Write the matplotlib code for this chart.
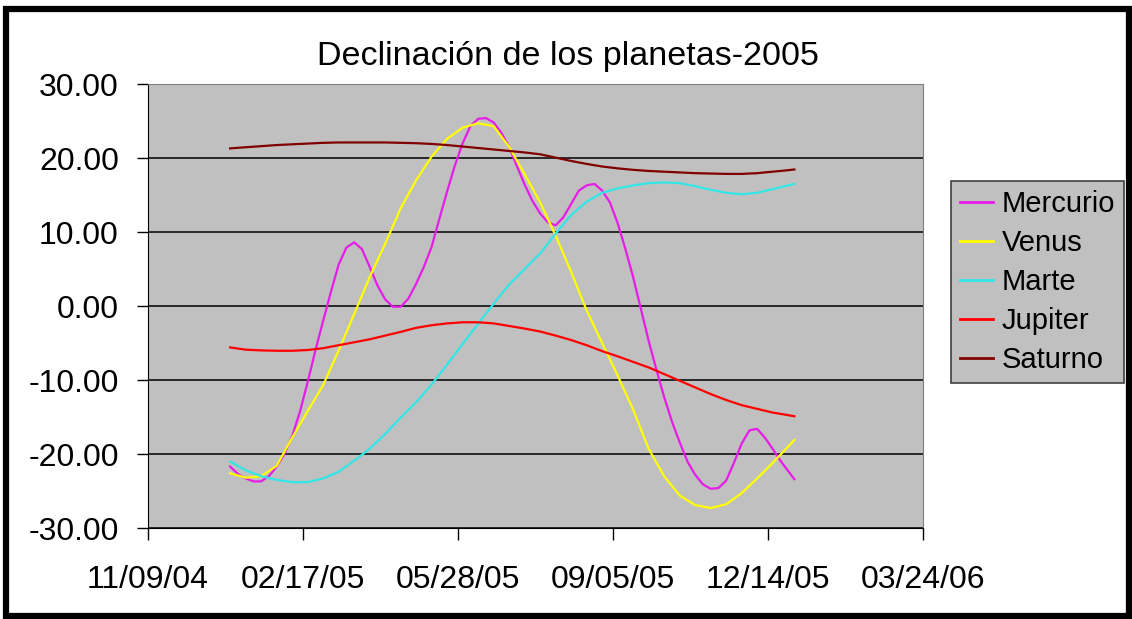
import numpy as np
import pandas as pd
import matplotlib
matplotlib.use('Agg')
import matplotlib.pyplot as plt
import matplotlib.dates as mdates
from matplotlib.patches import Rectangle

plt.rcParams['font.family'] = ['Liberation Sans', 'DejaVu Sans']

# fechas: cada 10 dias durante 2005 (Mercurio cada 5 dias), mas el 31 de diciembre
fechas = list(pd.date_range('2005-01-01', '2005-12-27', freq='10D')) + [pd.Timestamp('2005-12-31')]
fechas_mercurio = list(pd.date_range('2005-01-01', '2005-12-27', freq='5D')) + [pd.Timestamp('2005-12-31')]

mercurio = [-21.7, -22.7, -23.3, -23.7, -23.7, -23.0, -21.7, -20.0, -17.6, -14.3,
            -10.3, -6.0, -2.0, 1.9, 5.6, 7.9, 8.6, 7.7, 5.3, 2.8,
            0.9, -0.1, -0.1, 1.0, 3.0, 5.3, 8.0, 11.8, 15.5, 19.0,
            22.0, 24.3, 25.3, 25.4, 24.8, 23.4, 21.5, 18.9, 16.4, 14.2,
            12.5, 11.3, 10.9, 12.0, 13.8, 15.6, 16.3, 16.5, 15.6, 14.0,
            11.2, 7.7, 3.9, -0.4, -4.7, -8.6, -12.3, -15.6, -18.4, -21.0,
            -22.8, -24.1, -24.7, -24.6, -23.6, -21.2, -18.6, -16.8, -16.6, -17.8,
            -19.3, -20.9, -22.3, -23.4]
venus = [-22.6, -23.2, -23.0, -21.6, -17.8, -14.2, -10.7, -6.0, -1.1, 3.9,
         8.4, 13.2, 17.0, 20.2, 22.6, 24.1, 24.7, 24.3, 21.5, 17.8,
         14.0, 9.5, 4.6, -0.6, -5.0, -9.4, -14.0, -19.3, -23.0, -25.6,
         -26.9, -27.3, -26.8, -25.3, -23.3, -21.2, -19.0, -18.1]
marte = [-21.0, -22.2, -23.0, -23.5, -23.8, -23.8, -23.3, -22.4, -20.9, -19.3,
         -17.3, -15.1, -13.0, -10.6, -7.9, -5.1, -2.4, 0.3, 2.9, 5.0,
         7.1, 9.8, 12.3, 14.1, 15.3, 15.9, 16.3, 16.6, 16.7, 16.6,
         16.2, 15.7, 15.3, 15.1, 15.3, 15.8, 16.3, 16.5]
jupiter = [-5.6, -5.9, -6.0, -6.05, -6.05, -5.95, -5.7, -5.3, -4.9, -4.5,
           -4.0, -3.5, -2.95, -2.6, -2.35, -2.2, -2.2, -2.35, -2.7, -3.05,
           -3.45, -4.0, -4.6, -5.3, -6.1, -6.8, -7.55, -8.3, -9.2, -10.1,
           -11.0, -11.9, -12.7, -13.4, -13.9, -14.4, -14.75, -14.9]
saturno = [21.3, 21.45, 21.6, 21.75, 21.85, 21.95, 22.05, 22.1, 22.1, 22.1,
           22.1, 22.05, 22.0, 21.9, 21.75, 21.55, 21.35, 21.15, 20.95, 20.75,
           20.5, 20.05, 19.6, 19.2, 18.85, 18.6, 18.4, 18.25, 18.15, 18.05,
           17.95, 17.9, 17.85, 17.85, 17.95, 18.15, 18.35, 18.45]

nombres = ['Mercurio', 'Venus', 'Marte', 'Jupiter', 'Saturno']
colores = ['#E81CE8', '#FFFF00', '#33E6E6', '#FF0000', '#800000']
series = [(fechas_mercurio, mercurio), (fechas, venus), (fechas, marte),
          (fechas, jupiter), (fechas, saturno)]

fig = plt.figure(figsize=(11.32, 6.19), dpi=100)
ax = fig.add_axes([148/1132, 1 - 528/619, (923-148)/1132, (528-84)/619])
ax.set_facecolor('#C0C0C0')

for (x, y), nombre, color in zip(series, nombres, colores):
    ax.plot(x, y, color=color, lw=1.6, label=nombre, solid_joinstyle='round')

# eje x: fechas cada 100 dias
inicio = pd.Timestamp('2004-11-09')
ticks = [inicio + pd.Timedelta(days=100*i) for i in range(6)]
ax.set_xlim(ticks[0], ticks[-1])
ax.set_xticks(ticks)
ax.xaxis.set_major_formatter(mdates.DateFormatter('%m/%d/%y'))

ax.set_ylim(-30, 30)
ax.set_yticks(np.arange(-30, 31, 10))
ax.set_yticklabels(['%.2f' % v for v in np.arange(-30, 31, 10)])
ax.yaxis.grid(True, color='black', lw=1.1)
ax.set_axisbelow(True)

ax.tick_params(axis='y', direction='out', length=8, width=1, pad=13, labelsize=23)
ax.tick_params(axis='x', direction='out', length=8.5, width=1, pad=18, labelsize=23)
ax.spines['left'].set_color('black')
ax.spines['bottom'].set_color('black')
ax.spines['top'].set_color('#808080')
ax.spines['right'].set_color('#808080')

fig.text(568/1132, 1 - 56/619, 'Declinación de los planetas-2005', fontsize=24.5,
         ha='center', va='center')

leg = ax.legend(loc='upper left', bbox_to_anchor=(951/1132, 1 - 181/619),
                bbox_transform=fig.transFigure, fontsize=21, frameon=True,
                fancybox=False, shadow=False, framealpha=1, borderaxespad=0,
                borderpad=0.3, labelspacing=0.38, handlelength=1.15,
                handletextpad=0.28)
leg.get_frame().set_facecolor('#C0C0C0')
leg.get_frame().set_edgecolor('#404040')
leg.get_frame().set_linewidth(1.2)
for linea in leg.get_lines():
    linea.set_linewidth(2)

# marco negro alrededor de la figura
fig.add_artist(Rectangle((6/1132, 3/619), 1123/1132, 607/619, transform=fig.transFigure,
                         fill=False, edgecolor='black', lw=4.5))

fig.savefig('out.png', dpi=100)
